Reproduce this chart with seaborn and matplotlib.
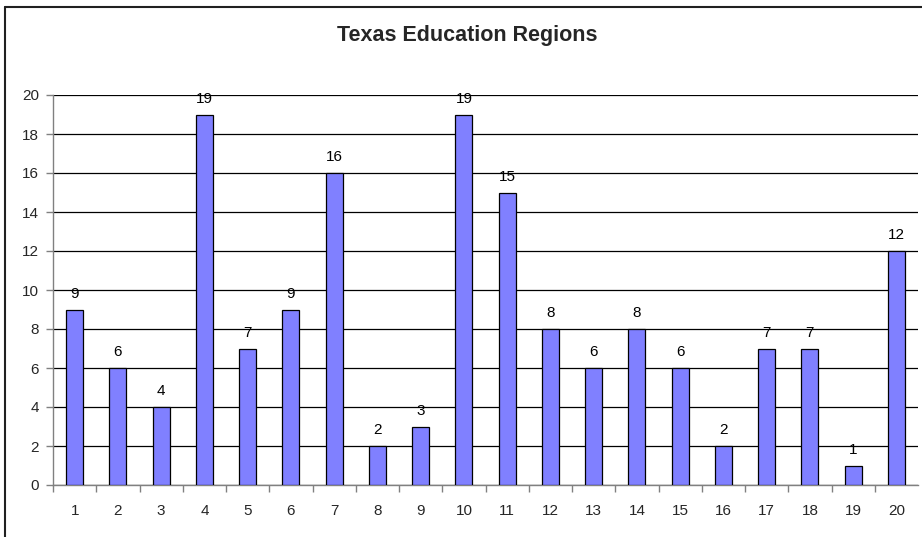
import matplotlib
matplotlib.use("Agg")
import matplotlib.pyplot as plt
import seaborn as sns
import pandas as pd
from matplotlib.lines import Line2D

regions = [str(i) for i in range(1, 21)]
counts = [9, 6, 4, 19, 7, 9, 16, 2, 3, 19, 15, 8, 6, 8, 6, 2, 7, 7, 1, 12]
title = "Texas Education Regions"

sns.set_style("white")
plt.rcParams["font.family"] = ["Liberation Sans", "DejaVu Sans"]

df = pd.DataFrame({"region": regions, "count": counts})

fig = plt.figure(figsize=(9.22, 5.37), dpi=100)
ax = fig.add_axes([53/922, 1-485/537, (918-53)/922, (485-95)/537])

sns.barplot(data=df, x="region", y="count", order=regions, color="#8080FF",
            saturation=1, width=0.39, edgecolor="black", linewidth=0.9, ax=ax, zorder=3)

ax.set_ylim(0, 20)
ax.set_xlim(-0.5, len(regions) - 0.5)
ax.set_yticks(range(0, 21, 2))
ax.set_xlabel("")
ax.set_ylabel("")

ax.yaxis.grid(True, color="black", linewidth=0.9, zorder=0)
ax.set_axisbelow(True)
for s in ["top", "right"]:
    ax.spines[s].set_visible(False)
for s in ["left", "bottom"]:
    ax.spines[s].set_color("#808080")
    ax.spines[s].set_linewidth(1.0)

ax.tick_params(axis="y", length=5, width=1, color="#808080", direction="out",
               labelsize=11, pad=5, left=True)
ax.tick_params(axis="x", which="major", length=0, labelsize=11, pad=14)
ax.set_xticks([i + 0.5 for i in range(len(regions) - 1)] + [-0.5], minor=True)
ax.tick_params(axis="x", which="minor", length=5, width=1, color="#808080",
               direction="out", bottom=True)

for i, v in enumerate(counts):
    ax.annotate(str(v), xy=(i, v), xytext=(0, 8.5), textcoords="offset points",
                ha="center", va="baseline", fontsize=11, color="black")

fig.text(467/922, 1-36/537, title, ha="center", va="center",
         fontsize=15.5, fontweight="bold")

# outer chart border
fig.add_artist(Line2D([5/922, 5/922], [0, 1-7/537], transform=fig.transFigure,
                      color="#202020", linewidth=1.5))
fig.add_artist(Line2D([5/922, 1], [1-7/537, 1-7/537], transform=fig.transFigure,
                      color="#202020", linewidth=1.5))

fig.savefig("out.png", dpi=100)
